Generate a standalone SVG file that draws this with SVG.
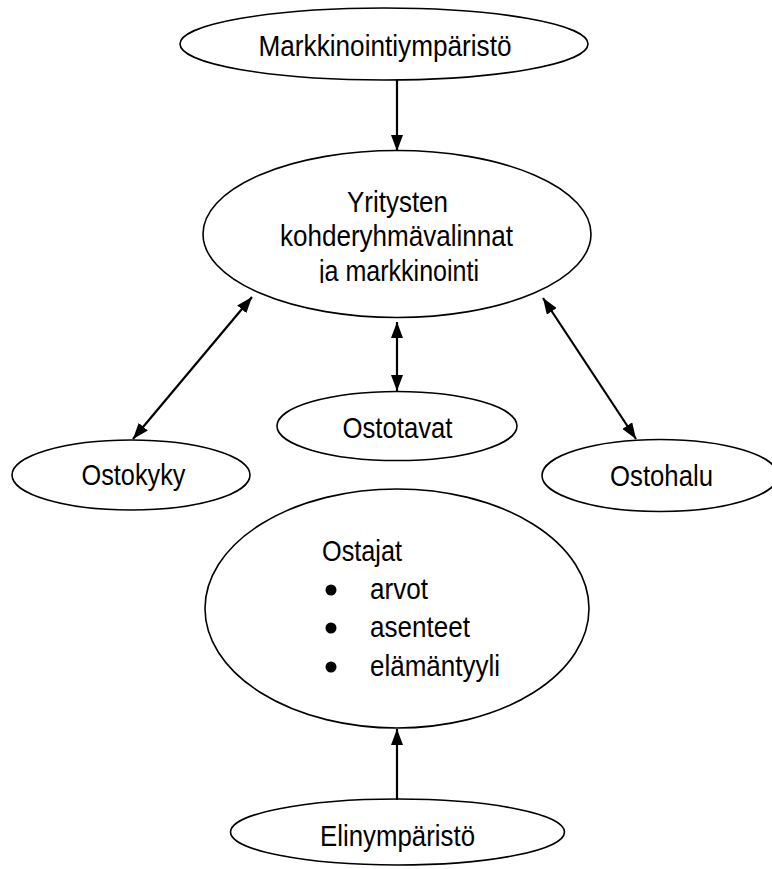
<svg xmlns="http://www.w3.org/2000/svg" width="772" height="869" viewBox="0 0 772 869">
<defs>
<style>
.node{fill:#fff;stroke:#000;stroke-width:1.6}
.t{font-family:"Liberation Sans",Arial,sans-serif;font-size:30px;fill:#000}
.c{text-anchor:middle}
.conn line{stroke:#000;stroke-width:2.2}
</style>
<marker id="ah" viewBox="0 0 16 12" markerWidth="16" markerHeight="12" refX="16" refY="6" orient="auto-start-reverse" markerUnits="userSpaceOnUse">
<path d="M0,0 L16,6 L0,12 z" fill="#000"/>
</marker>
<clipPath id="clipY"><rect x="200" y="150" width="400" height="133"/></clipPath>
</defs>
<rect width="772" height="869" fill="#fff"/>
<g id="markkinointiymparisto">
<ellipse class="node" cx="384" cy="44" rx="204" ry="36"/>
<text class="t c" x="385" y="56" textLength="253" lengthAdjust="spacingAndGlyphs">Markkinointiympäristö</text>
</g>
<g id="yritysten">
<ellipse class="node" cx="397" cy="234" rx="194" ry="83.5"/>
<g clip-path="url(#clipY)">
<text class="t c" x="397.5" y="211.5" textLength="101" lengthAdjust="spacingAndGlyphs">Yritysten</text>
<text class="t c" x="396.5" y="246" textLength="233" lengthAdjust="spacingAndGlyphs">kohderyhmävalinnat</text>
<text class="t c" x="399" y="280.5" textLength="160" lengthAdjust="spacingAndGlyphs">ja markkinointi</text>
</g>
</g>
<g id="ostokyky">
<ellipse class="node" cx="131" cy="475" rx="119" ry="35"/>
<text class="t c" x="133.5" y="485" textLength="104" lengthAdjust="spacingAndGlyphs">Ostokyky</text>
</g>
<g id="ostotavat">
<ellipse class="node" cx="397" cy="426" rx="120" ry="34.5"/>
<text class="t c" x="397.5" y="438" textLength="110" lengthAdjust="spacingAndGlyphs">Ostotavat</text>
</g>
<g id="ostohalu">
<ellipse class="node" cx="660" cy="475.5" rx="118" ry="36"/>
<text class="t c" x="661.5" y="486" textLength="103" lengthAdjust="spacingAndGlyphs">Ostohalu</text>
</g>
<g id="ostajat">
<ellipse class="node" cx="397" cy="608.5" rx="192" ry="119.5"/>
<text class="t" x="322" y="561" textLength="80" lengthAdjust="spacingAndGlyphs">Ostajat</text>
<circle cx="331" cy="590" r="5.5"/>
<text class="t" x="370" y="599" textLength="58" lengthAdjust="spacingAndGlyphs">arvot</text>
<circle cx="331" cy="628" r="5.5"/>
<text class="t" x="370" y="637" textLength="100" lengthAdjust="spacingAndGlyphs">asenteet</text>
<circle cx="331" cy="667" r="5.5"/>
<text class="t" x="370" y="676" textLength="130" lengthAdjust="spacingAndGlyphs">elämäntyyli</text>
</g>
<g id="elinymparisto">
<ellipse class="node" cx="397.5" cy="832" rx="167" ry="33"/>
<text class="t c" x="397.5" y="846" textLength="155" lengthAdjust="spacingAndGlyphs">Elinympäristö</text>
</g>
<g id="connectors" class="conn">
<line x1="397" y1="80" x2="397" y2="151" marker-end="url(#ah)"/>
<line x1="252" y1="297" x2="133" y2="439" marker-start="url(#ah)" marker-end="url(#ah)"/>
<line x1="397" y1="322" x2="397" y2="391" marker-start="url(#ah)" marker-end="url(#ah)"/>
<line x1="543" y1="298" x2="636" y2="439" marker-start="url(#ah)" marker-end="url(#ah)"/>
<line x1="397" y1="800" x2="397" y2="729" marker-end="url(#ah)"/>
</g>
</svg>
